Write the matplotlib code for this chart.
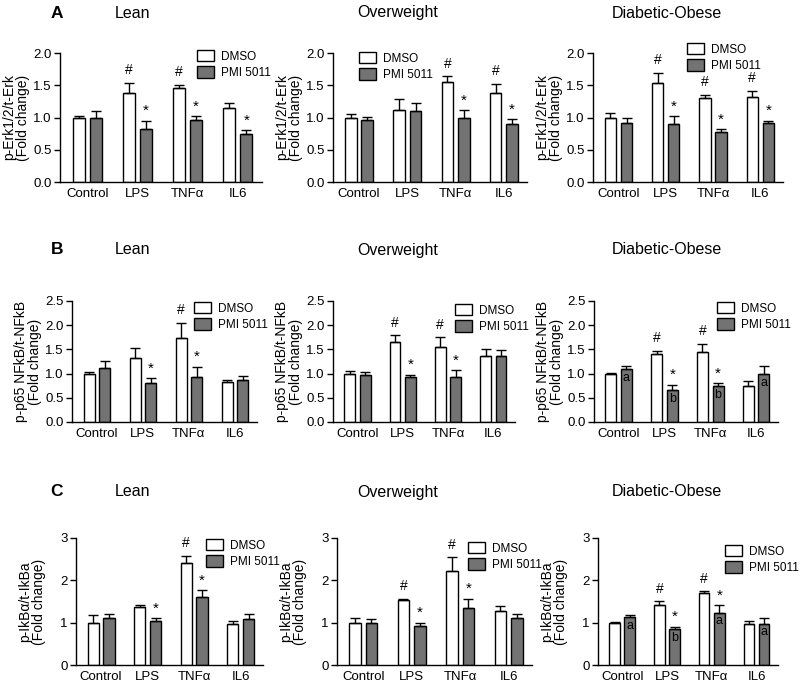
import matplotlib
matplotlib.use("Agg")
import matplotlib.pyplot as plt
from matplotlib.patches import Patch

plt.rcParams['font.family'] = ['Liberation Sans', 'DejaVu Sans']

groups = ['Control', 'LPS', 'TNFα', 'IL6']
series = ['DMSO', 'PMI 5011']
columns = ['Lean', 'Overweight', 'Diabetic-Obese']
row_letters = ['A', 'B', 'C']
ylabels = ['p-Erk1/2/t-Erk\n(Fold change)',
           'p-p65 NFkB/t-NFkB\n(Fold change)',
           'p-IkBα/t-IkBa\n(Fold change)']

# ---- p-Erk ----
erk_dmso = [[1.00, 1.38, 1.45, 1.14], [1.00, 1.12, 1.55, 1.38], [1.00, 1.53, 1.30, 1.32]]
erk_dmso_err = [[0.03, 0.16, 0.06, 0.09], [0.05, 0.16, 0.09, 0.14], [0.07, 0.16, 0.05, 0.09]]
erk_pmi = [[1.00, 0.82, 0.96, 0.75], [0.96, 1.10, 1.00, 0.90], [0.91, 0.90, 0.78, 0.91]]
erk_pmi_err = [[0.10, 0.13, 0.06, 0.05], [0.05, 0.12, 0.11, 0.07], [0.08, 0.12, 0.04, 0.04]]
erk_hash = [[1, 2], [2, 3], [1, 2, 3]]
erk_star = [[1, 2, 3], [2, 3], [1, 2, 3]]

# ---- p-p65 NFkB ----
nfkb_dmso = [[1.00, 1.32, 1.74, 0.82], [1.00, 1.66, 1.55, 1.37], [1.00, 1.40, 1.44, 0.74]]
nfkb_dmso_err = [[0.04, 0.21, 0.31, 0.05], [0.05, 0.13, 0.20, 0.13], [0.02, 0.07, 0.18, 0.11]]
nfkb_pmi = [[1.12, 0.80, 0.94, 0.86], [0.98, 0.92, 0.93, 1.37], [1.09, 0.66, 0.74, 0.99]]
nfkb_pmi_err = [[0.15, 0.10, 0.20, 0.09], [0.06, 0.05, 0.14, 0.12], [0.06, 0.11, 0.06, 0.16]]
nfkb_hash = [[2], [1, 2], [1, 2]]
nfkb_star = [[1, 2], [1, 2], [1, 2]]
nfkb_letters = [None, None, ['a', 'b', 'b', 'a']]

# ---- p-IkBa ----
ikb_dmso = [[1.00, 1.37, 2.40, 0.97], [1.00, 1.54, 2.23, 1.27], [0.99, 1.41, 1.70, 0.98]]
ikb_dmso_err = [[0.17, 0.05, 0.18, 0.06], [0.10, 0.02, 0.31, 0.13], [0.02, 0.10, 0.04, 0.07]]
ikb_pmi = [[1.12, 1.05, 1.60, 1.09], [1.00, 0.92, 1.34, 1.11], [1.14, 0.84, 1.24, 0.98]]
ikb_pmi_err = [[0.09, 0.05, 0.16, 0.11], [0.08, 0.08, 0.23, 0.10], [0.04, 0.06, 0.17, 0.12]]
ikb_hash = [[2], [1, 2], [1, 2]]
ikb_star = [[1, 2], [1, 2], [1, 2]]
ikb_letters = [None, None, ['a', 'b', 'a', 'a']]

rows = [
    (erk_dmso, erk_dmso_err, erk_pmi, erk_pmi_err, erk_hash, erk_star, [None, None, None],
     [0, 0.5, 1.0, 1.5, 2.0], '%.1f'),
    (nfkb_dmso, nfkb_dmso_err, nfkb_pmi, nfkb_pmi_err, nfkb_hash, nfkb_star, nfkb_letters,
     [0, 0.5, 1.0, 1.5, 2.0, 2.5], '%.1f'),
    (ikb_dmso, ikb_dmso_err, ikb_pmi, ikb_pmi_err, ikb_hash, ikb_star, ikb_letters,
     [0, 1, 2, 3], '%d'),
]

W, H = 800, 686
# axes boxes in pixels: left, bottom, right, top
boxes = [
    [(60, 182, 262, 53), (333, 182, 527, 53), (593, 182, 783, 53)],
    [(72, 422, 257, 301), (333, 422, 515, 301), (594, 422, 778, 301)],
    [(76, 665, 263, 538), (337, 665, 532, 538), (598, 665, 778, 538)],
]
legend_pos = [
    [(197, 50), (359, 52), (687, 43)],
    [(194, 302), (455, 304), (717, 302)],
    [(206, 539), (468, 542), (725, 545)],
]
title_pos = [[(133, 13), (398, 13), (667, 13)],
             [(133, 250), (398, 250), (667, 250)],
             [(133, 492), (398, 492), (667, 492)]]
label_pad = [2, 2, 10]

grey = '#737373'
fig = plt.figure(figsize=(W / 100, H / 100), dpi=100, facecolor='white')

for r, (dm, dme, pm, pme, hashes, stars, letters, yt, fmt) in enumerate(rows):
    fig.text(57 / W, 1 - title_pos[r][0][1] / H, row_letters[r], fontsize=12.5,
             fontweight='bold', ha='center', va='center')
    for c in range(3):
        l, b, rr, t = boxes[r][c]
        ax = fig.add_axes([l / W, 1 - b / H, (rr - l) / W, (b - t) / H])
        x = range(len(groups))
        xd = [i - 0.17 for i in x]
        xp = [i + 0.17 for i in x]
        ekw = dict(ecolor='black', elinewidth=1, capsize=3.5, capthick=1)
        ax.bar(xd, dm[c], width=0.24, color='white', edgecolor='black', linewidth=1,
               yerr=[[0] * 4, dme[c]], error_kw=ekw, zorder=2)
        ax.bar(xp, pm[c], width=0.24, color=grey, edgecolor='black', linewidth=1,
               yerr=[[0] * 4, pme[c]], error_kw=ekw, zorder=2)
        for g in hashes[c]:
            ax.annotate('#', (xd[g], dm[c][g] + dme[c][g]), xytext=(0, 4),
                        textcoords='offset points', ha='center', va='bottom', fontsize=10)
        for g in stars[c]:
            ax.annotate('*', (xp[g], pm[c][g] + pme[c][g]), xytext=(0, 2),
                        textcoords='offset points', ha='center', va='bottom', fontsize=11)
        if letters[c] is not None:
            for g, s in enumerate(letters[c]):
                ax.annotate(s, (xp[g], pm[c][g]), xytext=(0, -2),
                            textcoords='offset points', ha='center', va='top', fontsize=9)
        ax.set_xlim(-0.54, 3.48)
        ax.set_ylim(0, yt[-1])
        ax.set_yticks(yt)
        ax.set_yticklabels([fmt % v for v in yt])
        ax.set_xticks(list(x))
        ax.set_xticklabels(groups)
        ax.tick_params(axis='x', length=0, pad=4, labelsize=9.5)
        ax.tick_params(axis='y', length=4, width=1, direction='out', labelsize=9.5, pad=2)
        for s in ['top', 'right']:
            ax.spines[s].set_visible(False)
        for s in ['left', 'bottom']:
            ax.spines[s].set_linewidth(1)
        ax.set_facecolor('none')
        ax.set_ylabel(ylabels[r], fontsize=10, linespacing=1.05, labelpad=label_pad[r])
        tx, ty = title_pos[r][c]
        fig.text(tx / W, 1 - ty / H, columns[c], ha='center', va='center', fontsize=11.5)
        lx, ly = legend_pos[r][c]
        handles = [Patch(facecolor='white', edgecolor='black', linewidth=1),
                   Patch(facecolor=grey, edgecolor='black', linewidth=1)]
        fig.legend(handles, series, loc='upper left', bbox_to_anchor=(lx / W, 1 - ly / H),
                   bbox_transform=fig.transFigure, frameon=False, fontsize=8.5,
                   handlelength=1.4, handleheight=1.1, handletextpad=0.6,
                   labelspacing=0.3, borderpad=0, borderaxespad=0)

plt.savefig('out.png', dpi=100, facecolor='white')
